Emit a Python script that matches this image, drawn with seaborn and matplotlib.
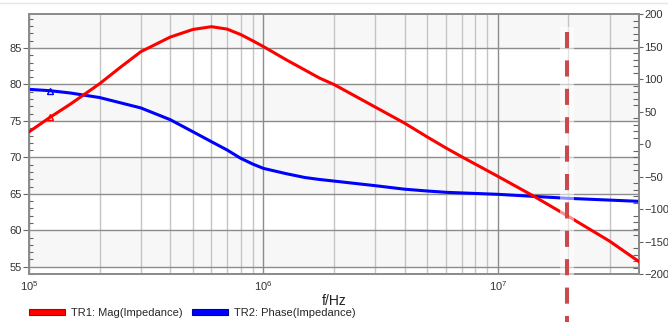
import matplotlib
matplotlib.use('Agg')
import matplotlib.pyplot as plt
import matplotlib.patches as mpatches
from matplotlib.ticker import MultipleLocator, NullFormatter
import seaborn as sns

# TR1: magnitude of impedance (left axis)
mag_freq = [1.0e5, 1.23e5, 1.5e5, 2e5, 2.44e5, 3e5, 4e5, 5e5, 6e5, 7e5, 8e5, 9e5, 1e6,
            1.25e6, 1.5e6, 1.73e6, 2e6, 3e6, 4e6, 5e6, 6e6, 7e6, 1e7, 1.41e7, 2e7, 3e7, 4e7]
mag_val = [73.5, 75.5, 77.3, 80.1, 82.3, 84.5, 86.5, 87.55, 87.93, 87.6, 86.85, 86.0, 85.2,
           83.4, 82.0, 80.9, 80.0, 76.9, 74.7, 72.8, 71.3, 70.1, 67.4, 64.75, 61.9, 58.5, 55.7]

# TR2: phase of impedance (right axis)
phase_freq = [1.0e5, 1.23e5, 1.5e5, 2e5, 3e5, 4e5, 5e5, 6e5, 7e5, 8e5, 9e5, 1e6,
              1.25e6, 1.5e6, 1.73e6, 2e6, 3e6, 4e6, 5e6, 6e6, 1e7, 2e7, 4e7]
phase_val = [84.1, 82.0, 78.5, 71.5, 55.5, 37.5, 18.9, 3.6, -9.2, -22.0, -30.8, -37.5,
             -45.6, -51.5, -54.5, -57.0, -64.1, -69.5, -72.3, -74.3, -77.4, -83.6, -88.2]

marker_idx = 1          # triangle trace markers
cursor_freq = 1.97e7    # dashed red marker line

left_ticks = [55, 60, 65, 70, 75, 80, 85]
right_ticks = [-200, -150, -100, -50, 0, 50, 100, 150, 200]
legend_labels = ['TR1: Mag(Impedance)', 'TR2: Phase(Impedance)']

sns.set_style('white')
plt.rcParams['font.family'] = ['Liberation Sans', 'DejaVu Sans']

fig = plt.figure(figsize=(6.68, 3.22), dpi=100)
ax = fig.add_axes([0.0434, 0.149, 0.9132, 0.8075])
ax.set_xscale('log')
ax.set_xlim(1e5, 4e7)
ax.set_ylim(54.0, 89.67)

# alternating shaded bands
for lo in [55, 65, 75, 85]:
    ax.axhspan(lo, lo + 5, color='#f7f7f7', zorder=0, lw=0)

ax.set_yticks(left_ticks)
ax.yaxis.set_minor_locator(MultipleLocator(1))
ax.set_axisbelow(True)
ax.grid(True, which='major', axis='both', color='#8c8c8c', lw=1.0)
ax.grid(True, which='minor', axis='x', color='#c4c4c4', lw=1.0)
ax.xaxis.set_minor_formatter(NullFormatter())

ax.tick_params(axis='y', which='major', direction='out', length=4, width=0.8,
               color='#666666', labelsize=8, labelcolor='#333333', pad=1)
ax.tick_params(axis='y', which='minor', direction='in', length=3, width=0.8, color='#666666')
ax.tick_params(axis='x', which='major', direction='out', length=3, width=0.8,
               color='#666666', labelsize=8, labelcolor='#333333', pad=1)
ax.tick_params(axis='x', which='minor', length=0)
for s in ax.spines.values():
    s.set_color('#8c8c8c')
    s.set_linewidth(1.3)
ax.set_xlabel('f/Hz', fontsize=10, color='#222222', labelpad=0.5)

# right axis for phase
ax2 = ax.twinx()
sns.lineplot(x=phase_freq, y=phase_val, ax=ax2, color='#0000ff', lw=2.2, legend=False)
ax2.plot(phase_freq[marker_idx], phase_val[marker_idx], marker='^', ms=5,
         mfc='none', mec='#0000ff', mew=1.0, ls='none')
ax2.set_ylim(-200, 200)
ax2.set_yticks(right_ticks)
ax2.yaxis.set_minor_locator(MultipleLocator(10))
ax2.tick_params(axis='y', which='major', direction='out', length=3, width=0.8,
                color='#666666', labelsize=8, labelcolor='#333333', pad=0.8)
ax2.tick_params(axis='y', which='minor', direction='in', length=4, width=0.8, color='#666666')
for s in ax2.spines.values():
    s.set_color('#8c8c8c')
    s.set_linewidth(1.3)

# top layer for magnitude so it sits above the phase trace
ax3 = ax.twinx()
sns.lineplot(x=mag_freq, y=mag_val, ax=ax3, color='#ff0000', lw=2.2, legend=False)
ax3.plot(mag_freq[marker_idx], mag_val[marker_idx], marker='^', ms=5,
         mfc='none', mec='#ff0000', mew=1.0, ls='none')
ax3.set_ylim(ax.get_ylim())
ax3.set_axis_off()

# dashed cursor line with a soft halo
ax3.axvline(cursor_freq, ymin=0.95, ymax=-0.19, color='white', lw=10, alpha=0.55,
            clip_on=False, solid_capstyle='butt')
ax3.axvline(cursor_freq, ymin=0.931, ymax=-0.19, color='#c9494d', lw=2.9,
            dashes=(4.0, 3.05), clip_on=False)

handles = [mpatches.Patch(facecolor='#ff0000', edgecolor='#b00000', lw=0.8),
           mpatches.Patch(facecolor='#0000ff', edgecolor='#0000a0', lw=0.8)]
fig.legend(handles, legend_labels, loc='center left', bbox_to_anchor=(29 / 668, 9 / 322),
           ncol=2, frameon=False, fontsize=8, handlelength=3.2, handleheight=0.45,
           handletextpad=0.55, columnspacing=0.9, borderpad=0, borderaxespad=0)

fig.add_artist(plt.Line2D([0, 1], [0.99, 0.99], color='#e6e6e6', lw=1))

fig.savefig('out.png', dpi=100)
